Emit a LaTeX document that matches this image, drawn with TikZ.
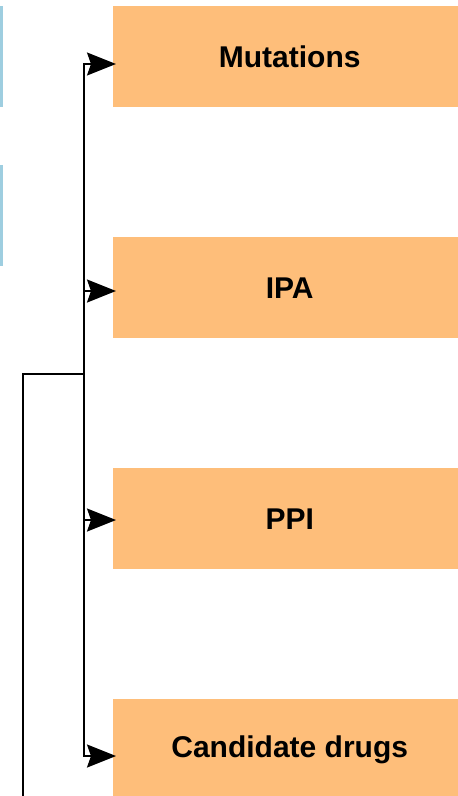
\documentclass[tikz,border=0pt]{standalone}
\usepackage{fontspec}
\setmainfont{Liberation Sans}
\usetikzlibrary{arrows.meta}
\definecolor{boxorange}{RGB}{254,190,122}
\definecolor{barblue}{RGB}{158,206,224}
\begin{document}
\begin{tikzpicture}[x=1pt,y=-1pt,
  fbox/.style={fill=boxorange, draw=none, minimum width=353pt, minimum height=101pt, inner sep=0pt, font=\fontsize{30}{36}\selectfont\bfseries},
  conn/.style={line width=1.8pt, draw=black},
  arr/.style={conn, -{Stealth[length=29pt,width=23pt,inset=4pt]}}]
\useasboundingbox (0,0) rectangle (458,796);
\clip (0,0) rectangle (458,796);
\fill[barblue] (0,6) rectangle (3,107);
\fill[barblue] (0,165) rectangle (3,266);
\node[fbox, anchor=north west] (m) at (113,6) {Mutations};
\node[fbox, anchor=north west] (ipa) at (113,237) {IPA};
\node[fbox, anchor=north west] (ppi) at (113,468) {PPI};
\node[fbox, anchor=north west] (cd) at (113,699) {Candidate drugs};
\coordinate (s) at (23,800);
\coordinate (j) at (84,374);
\coordinate (top) at (84,64);
\draw[conn] (s) |- (j);
\draw[arr] (j) -- (top) -- ([xshift=3pt]m.west |- top);
\draw[arr] (84,291) -- ([xshift=3pt]ipa.west |- 0,291);
\draw[arr] (84,520) -- ([xshift=3pt]ppi.west |- 0,520);
\draw[arr] (j) -- (84,756) -- ([xshift=3pt]cd.west |- 0,756);
\end{tikzpicture}
\end{document}
